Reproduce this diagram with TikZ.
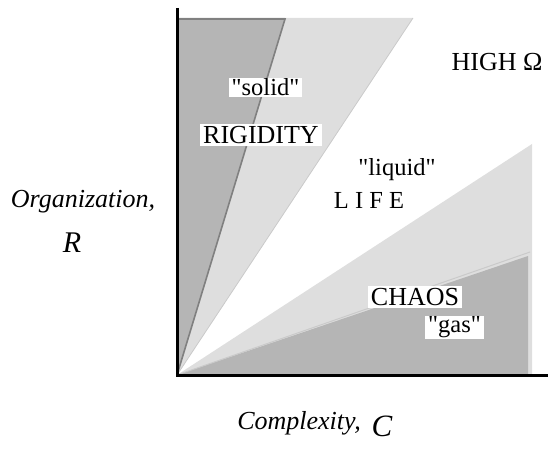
\documentclass[tikz,border=0pt]{standalone}
\usepackage{fontspec}
\setmainfont{Liberation Serif}[Ligatures=TeXOff]
\definecolor{lightg}{HTML}{DEDEDE}
\definecolor{darkg}{HTML}{B5B5B5}
\definecolor{edgeg}{HTML}{808080}
\definecolor{lineg}{HTML}{CACACA}
\tikzset{
  wbox/.style={fill=white, inner xsep=3pt, inner ysep=2pt, anchor=center},
  capslab/.style={font=\fontsize{26}{28}\selectfont},
  smalllab/.style={font=\fontsize{24.5}{26}\selectfont},
  axislab/.style={font=\fontsize{26}{28}\selectfont\itshape, inner sep=0pt},
  axis/.style={line width=3pt, black}
}
\begin{document}
\begin{tikzpicture}[x=1pt,y=-1pt]
\useasboundingbox (0,0) rectangle (548,449);
\coordinate (O) at (177,375);
\coordinate (ytop) at (177,8);
\coordinate (xend) at (548,375);
% upper wedges
\fill[lightg] (O) -- (177,18) -- (413,18) -- cycle;
\draw[lineg, line width=0.8pt] (O) -- (413,18);
\fill[darkg] (O) -- (177,18) -- (285,18) -- cycle;
\draw[edgeg, line width=1.6pt] (O) -- (285,19) -- (177,19);
% lower wedges
\fill[lightg] (O) -- (532,144) -- (532,375) -- cycle;
\fill[darkg] (O) -- (528,256) -- (528,375) -- cycle;
\draw[lineg, line width=1pt] (O) -- (530,252);
% axes
\draw[axis] (ytop) -- (O) -- (xend);
% labels
\node[wbox, smalllab, inner ysep=0.5pt] (solid) at (265.5,87.5) {"solid"};
\node[wbox, capslab] (rig) at (261,135) {RIGIDITY};
\node[capslab, inner sep=0pt] (high) at (497,62) {HIGH Ω};
\node[smalllab, inner sep=0pt] (liquid) at (397,170) {"liquid"};
\node[smalllab, inner sep=0pt] (life) at (369,200) {L I F E};
\node[wbox, capslab] (chaos) at (415,297) {CHAOS};
\node[wbox, smalllab, inner ysep=0.5pt] (gas) at (454.5,327.5) {"gas"};
\node[axislab] (org) at (83,202) {Organization,};
\node[axislab, font=\fontsize{30}{32}\selectfont\itshape] (R) at (72,243) {R};
\node[axislab] (cx) at (299,423) {Complexity,};
\node[axislab, font=\fontsize{31}{33}\selectfont\itshape] (C) at (382,426) {C};
\end{tikzpicture}
\end{document}
